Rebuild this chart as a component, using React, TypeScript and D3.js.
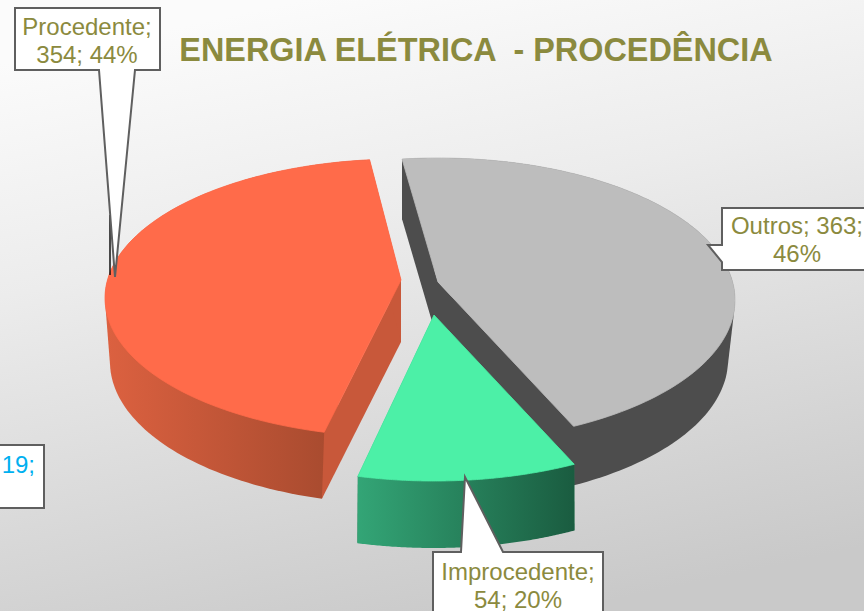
import React from "react";
import * as d3 from "d3";

const W = 864, H = 611;
const titleText = "ENERGIA ELÉTRICA  - PROCEDÊNCIA";
const categories = ["Outros", "Improcedente", "Procedente"];
// sweep of each drawn slice
const sliceValues = [363, 77, 354];
const topColors = ["#bdbdbd", "#4cf0a7", "#ff6b4a"];
const edgeColors = ["#4d4d4d", "#24774f", "#c8583a"];
const wallFrom = ["#4d4d4d", "#33a576", "#dc6140"];
const wallTo = ["#4d4d4d", "#1a5c40", "#9f472c"];

// placement of each exploded slice
const geo = [
  { apex: [438, 282], c: [438, 300], rx: 297, ry: 142, d: 60, brx: 291, bry: 142, bc: [437, 360], rot: 0, edgesOver: false },
  { apex: [434, 315], c: [434, 340], rx: 297, ry: 141, d: 66, brx: 293, bry: 141, bc: [433, 407], rot: 0, edgesOver: false },
  { apex: [401, 280], c: [401, 298], rx: 296, ry: 139, d: 62, brx: 291, bry: 142, bc: [401, 362], rot: 0.8, edgesOver: true },
];

const START = (-7.5 * Math.PI) / 180;
const squash = 0.45;

function onEllipse(ax: number, ay: number, cx: number, cy: number, rx: number, ry: number, th: number) {
  const dx = Math.sin(th), dy = -Math.cos(th) * squash;
  const ox = (ax - cx) / rx, oy = (ay - cy) / ry;
  const vx = dx / rx, vy = dy / ry;
  const a = vx * vx + vy * vy, b = 2 * (ox * vx + oy * vy), c = ox * ox + oy * oy - 1;
  const t = (-b + Math.sqrt(b * b - 4 * a * c)) / (2 * a);
  return [ax + t * dx, ay + t * dy] as [number, number];
}

function Slice({ i, arc }: { i: number; arc: d3.PieArcDatum<number> }) {
  const g = geo[i];
  const rot = (g.rot * Math.PI) / 180;
  const thetas = d3.range(0, 121).map((k) => rot + arc.startAngle + ((arc.endAngle - arc.startAngle) * k) / 120);
  const top = thetas.map((t) => onEllipse(g.apex[0], g.apex[1], g.c[0], g.c[1], g.rx, g.ry, t));
  const ba: [number, number] = [g.apex[0], g.apex[1] + g.d];
  const bot = thetas.map((t) => onEllipse(ba[0], ba[1], g.bc[0], g.bc[1], g.brx, g.bry, t));
  const line = d3.line();
  const close = (p: [number, number][]) => line(p) + "Z";
  const xs = top.map((p) => p[0]);
  const id = `wall${i}`;
  const hull = d3.polygonHull([...top, ...bot]) as [number, number][];
  const edges = (
    <>
      <path d={close([g.apex as [number, number], top[0], bot[0], ba])} fill={edgeColors[i]} />
      <path d={close([g.apex as [number, number], top[120], bot[120], ba])} fill={edgeColors[i]} />
    </>
  );
  return (
    <g>
      <defs>
        <linearGradient id={id} gradientUnits="userSpaceOnUse" x1={d3.min(xs)} x2={d3.max(xs)} y1={0} y2={0}>
          <stop offset="0" stopColor={wallFrom[i]} />
          <stop offset="1" stopColor={wallTo[i]} />
        </linearGradient>
      </defs>
      {!g.edgesOver && edges}
      <path d={close(hull)} fill={`url(#${id})`} />
      {g.edgesOver && edges}
      <path d={close([g.apex as [number, number], ...top])} fill={topColors[i]} stroke={topColors[i]} strokeWidth={0.8} />
    </g>
  );
}

const labelColor = "#8b8a3e";
const labels = [
  { lines: ["Procedente;", "354; 44%"], x: 87, y: 35 },
  { lines: ["Outros; 363;", "46%"], x: 797, y: 234 },
  { lines: ["Improcedente;", "54; 20%"], x: 518, y: 580 },
];
const calloutPaths = [
  "M15,8H160V70H135L115,277L99,70H15Z",
  "M722,208H872V270H722V262L708,245H722Z",
  "M433,552H461L465,477L503,552H603V620H433Z",
];

export default function App() {
  const arcs = d3.pie<number>().sort(null).startAngle(START).endAngle(START + 2 * Math.PI)(sliceValues);
  const order = [0, 2, 1];
  return (
    <svg width={W} height={H} viewBox={`0 0 ${W} ${H}`} style={{ position: "absolute", left: 0, top: 0, display: "block" }}
      fontFamily="'Liberation Sans', Arial, sans-serif">
      <defs>
        <linearGradient id="bg" x1="0.35" y1="0" x2="0.65" y2="1">
          <stop offset="0" stopColor="#fbfbfb" />
          <stop offset="0.35" stopColor="#ececec" />
          <stop offset="1" stopColor="#c9c9c9" />
        </linearGradient>
      </defs>
      <rect width={W} height={H} fill="url(#bg)" />
      <text x={476} y={61} textAnchor="middle" fontSize={32.4} fontWeight="bold" fill={labelColor} xmlSpace="preserve">{titleText}</text>
      {order.map((i) => <Slice key={categories[i]} i={i} arc={arcs[i]} />)}
      <line x1={110} y1={215} x2={110} y2={275} stroke="#111" strokeWidth={1.5} />
      {calloutPaths.map((d, i) => <path key={i} d={d} fill="#fff" stroke="#5f5f5f" strokeWidth={2} strokeLinejoin="miter" />)}
      {labels.map((l) => (
        <text key={l.lines[0]} textAnchor="middle" fontSize={24} fill={labelColor}>
          {l.lines.map((s, k) => <tspan key={k} x={l.x} y={l.y + k * 28}>{s}</tspan>)}
        </text>
      ))}
      <rect x={-10} y={445} width={54} height={63} fill="#fff" stroke="#5f5f5f" strokeWidth={2} />
      <text x={35} y={473} textAnchor="end" fontSize={24} fill="#00b0f0">19;</text>
    </svg>
  );
}
